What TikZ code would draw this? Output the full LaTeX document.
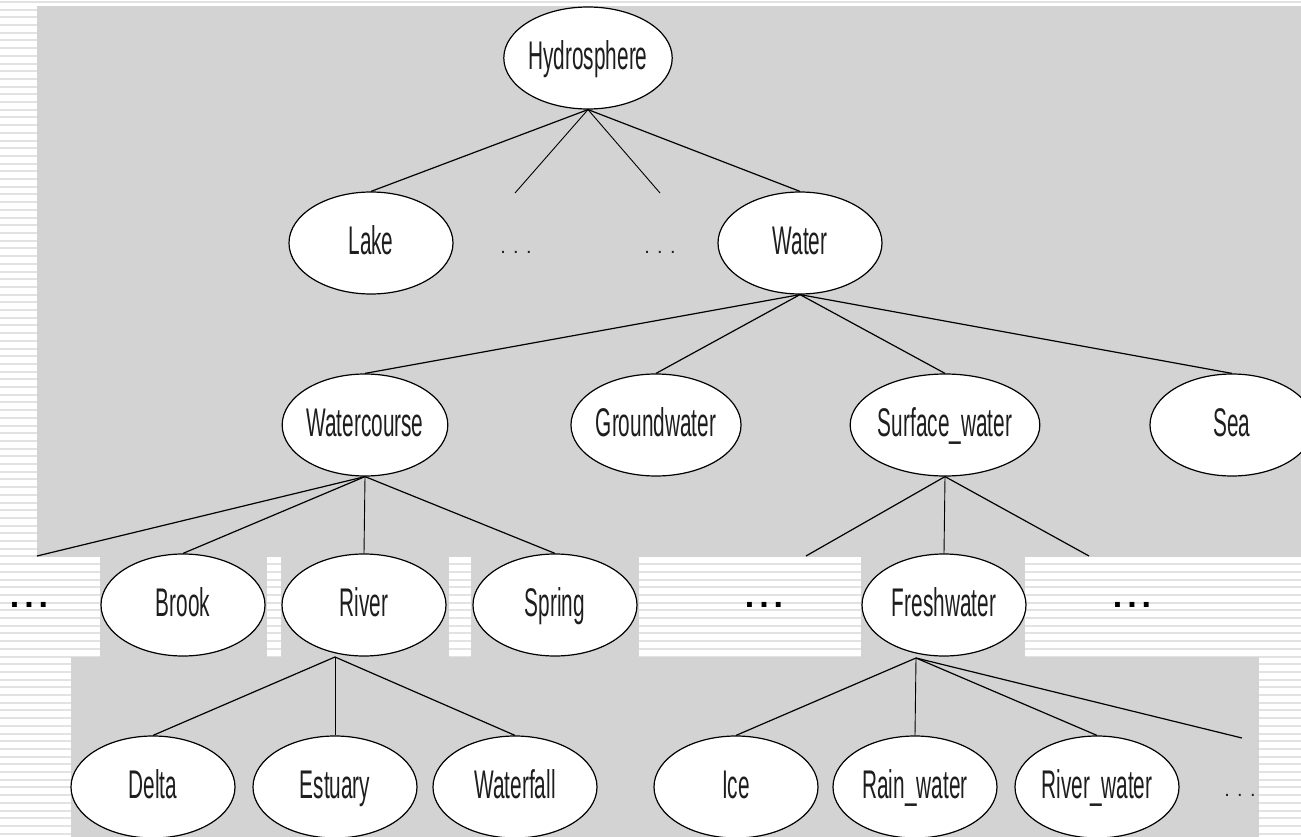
\documentclass[tikz,border=0pt]{standalone}
\usepackage{fontspec}
\setmainfont{Liberation Sans}
\newfontfamily\narrowfont{Liberation Sans}[FakeStretch=0.52]
\usetikzlibrary{shapes.geometric}
\definecolor{panelgray}{RGB}{211,211,211}
\definecolor{stripegray}{RGB}{226,226,226}
\definecolor{inkgray}{RGB}{30,30,30}
\begin{document}
\begin{tikzpicture}[x=1pt,y=-1pt,
  concept/.style={ellipse, draw=black, line width=1.2pt, fill=white,
    minimum width=164pt, minimum height=102pt, inner sep=0pt,
    text height=28.6pt, text depth=6pt,
    font=\narrowfont\fontsize{40}{44}\selectfont, text=inkgray},
  link/.style={draw=black, line width=1.2pt},
  vlink/.style={draw=black, line width=0.9pt},
  smalldots/.style={font=\fontsize{20}{24}\selectfont, text=inkgray},
  bigdots/.style={font=\bfseries\fontsize{34}{34}\selectfont, text=black},
]
\clip (0,0) rectangle (1301,837);
% striped background
\fill[white] (0,0) rectangle (1301,837);
\foreach \i in {0,...,109} \fill[stripegray] (0,\i*7.7+1) rectangle (1301,\i*7.7+3);
% gray panels
\fill[panelgray] (37,6) rectangle (1301,557);
\fill[panelgray] (100,557) rectangle (267,657);
\fill[panelgray] (281,557) rectangle (449,657);
\fill[panelgray] (471,557) rectangle (639,657);
\fill[panelgray] (861,557) rectangle (1025,657);
\fill[panelgray] (71,657) rectangle (1259,837);

% nodes
\node[concept] (hyd) at (588,58) {Hydrosphere};
\node[concept] (lake) at (371,243) {Lake};
\node[smalldots] (dotsA) at (516,252) {. . .};
\node[smalldots] (dotsB) at (660,252) {. . .};
\node[concept] (water) at (800,243) {Water};

\node[concept] (wc) at (365,425) {Watercourse};
\node[concept] (gw) at (656,425) {Groundwater};
\node[concept] (sw) at (945,425) {Surface\_water};
\node[concept] (sea) at (1232,425) {Sea};

\node[bigdots] (dotsL) at (29,605) {.\hspace{5pt}.\hspace{5pt}.};
\node[concept] (brook) at (183,605) {Brook};
\node[concept] (river) at (364,605) {River};
\node[concept] (spring) at (555,605) {Spring};
\node[bigdots] (dotsM) at (764,605) {.\hspace{5pt}.\hspace{5pt}.};
\node[concept] (fresh) at (944,605) {Freshwater};
\node[bigdots] (dotsR) at (1132,605) {.\hspace{5pt}.\hspace{5pt}.};

\node[concept] (delta) at (153,787) {Delta};
\node[concept] (estuary) at (335,787) {Estuary};
\node[concept] (waterfall) at (515,787) {Waterfall};
\node[concept] (ice) at (736,787) {Ice};
\node[concept] (rain) at (915,787) {Rain\_water};
\node[concept] (riverw) at (1097,787) {River\_water};
\node[smalldots] (dotsC) at (1240,795) {. . .};

% free ends and junctions
\coordinate (dA) at (515,193);
\coordinate (dB) at (660,193);
\coordinate (cL) at (37,556);
\coordinate (cM) at (806,556);
\coordinate (cR) at (1089,556);
\coordinate (rj) at (335,657);
\coordinate (fj) at (916,658);
\coordinate (cE) at (1242,738);

% connectors
\draw[link] (hyd.south) -- (lake.north);
\draw[vlink] (hyd.south) -- (dA);
\draw[vlink] (hyd.south) -- (dB);
\draw[link] (hyd.south) -- (water.north);

\draw[link] (water.south) -- (wc.north);
\draw[link] (water.south) -- (gw.north);
\draw[link] (water.south) -- (sw.north);
\draw[link] (water.south) -- (sea.north);

\draw[link] (wc.south) -- (cL);
\draw[link] (wc.south) -- (brook.north);
\draw[vlink] (wc.south) -- (river.north);
\draw[link] (wc.south) -- (spring.north);

\draw[link] (sw.south) -- (cM);
\draw[vlink] (sw.south) -- (fresh.north);
\draw[link] (sw.south) -- (cR);

\draw[link] (rj) -- (delta.north);
\draw[vlink] (rj) -- (estuary.north);
\draw[link] (rj) -- (waterfall.north);

\draw[link] (fj) -- (ice.north);
\draw[vlink] (fj) -- (rain.north);
\draw[link] (fj) -- (riverw.north);
\draw[link] (fj) -- (cE);
\end{tikzpicture}
\end{document}
